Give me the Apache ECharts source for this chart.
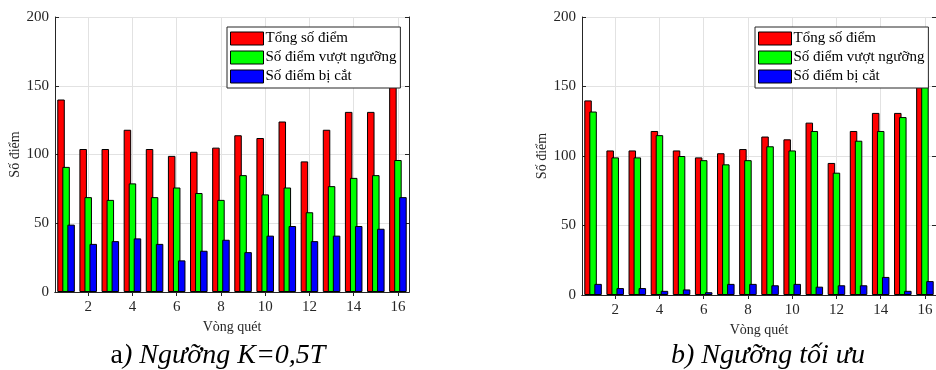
<!DOCTYPE html>
<html>
<head>
<meta charset="utf-8">
<script src="https://cdn.jsdelivr.net/npm/echarts@6/dist/echarts.min.js"></script>
<style>
html,body{margin:0;padding:0;background:#fff;}
#c{width:936px;height:370px;}
</style>
</head>
<body>
<div id="c"></div>
<script>
const categories = ['1','2','3','4','5','6','7','8','9','10','11','12','13','14','15','16'];
const seriesNames = ['Tổng số điểm', 'Số điểm vượt ngưỡng', 'Số điểm bị cắt'];
// chart a) Ngưỡng K=0,5T
const totalA = [140,104,104,118,104,99,102,105,114,112,124,95,118,131,131,165];
const aboveA = [91,69,67,79,69,76,72,67,85,71,76,58,77,83,85,96];
const cutA   = [49,35,37,39,35,23,30,38,29,41,48,37,41,48,46,69];
// chart b) Ngưỡng tối ưu
const totalB = [140,104,104,118,104,99,102,105,114,112,124,95,118,131,131,165];
const aboveB = [132,99,99,115,100,97,94,97,107,104,118,88,111,118,128,155];
const cutB   = [8,5,5,3,4,2,8,8,7,8,6,7,7,13,3,10];
const yMin = 0, yMax = 200, yStep = 50;
const xAxisName = 'Vòng quét';
const yAxisName = 'Số điểm';

const FONT = 'Liberation Serif';
const AX = '#262626';
const GRIDC = '#e2e2e2';
const colors = ['#ff0000', '#00ff00', '#0000ff'];
const evenOnly = (i) => i % 2 === 1;

const grids = [
  {left: 55, top: 17, width: 354, height: 275},
  {left: 582, top: 17, width: 357, height: 278}
];

const xAxes = [], yAxes = [], series = [], legends = [];
const sets = [[totalA, aboveA, cutA], [totalB, aboveB, cutB]];
const legendPos = [{left: 227, top: 27}, {left: 755, top: 27}];
const nameGaps = [{x: 28, y: 33}, {x: 28, y: 32}];

grids.forEach((g, gi) => {
  xAxes.push({
    type: 'category', gridIndex: gi, data: categories, position: 'bottom',
    boundaryGap: true,
    name: xAxisName, nameLocation: 'middle', nameGap: nameGaps[gi].x,
    nameTextStyle: {fontFamily: FONT, fontSize: 14, color: AX},
    axisLine: {show: true, lineStyle: {color: AX, width: 1}},
    axisTick: {show: true, inside: true, length: 4, alignWithLabel: true, interval: evenOnly, lineStyle: {color: AX}},
    axisLabel: {show: true, interval: evenOnly, fontFamily: FONT, fontSize: 15, color: AX, margin: 8},
    splitLine: {show: true, interval: evenOnly, alignWithLabel: true, lineStyle: {color: GRIDC, width: 1}}
  });
  xAxes.push({
    type: 'category', gridIndex: gi, data: categories, position: 'top',
    boundaryGap: true,
    axisLine: {show: true, lineStyle: {color: AX, width: 1}},
    axisTick: {show: true, inside: true, length: 4, alignWithLabel: true, interval: evenOnly, lineStyle: {color: AX}},
    axisLabel: {show: false},
    splitLine: {show: false}
  });
  yAxes.push({
    type: 'value', gridIndex: gi, min: yMin, max: yMax, interval: yStep, position: 'left',
    name: yAxisName, nameLocation: 'middle', nameGap: nameGaps[gi].y,
    nameTextStyle: {fontFamily: FONT, fontSize: 14, color: AX},
    axisLine: {show: true, lineStyle: {color: AX, width: 1}},
    axisTick: {show: true, inside: true, length: 4, lineStyle: {color: AX}},
    axisLabel: {fontFamily: FONT, fontSize: 15, color: AX, margin: 6},
    splitLine: {show: true, lineStyle: {color: GRIDC, width: 1}}
  });
  yAxes.push({
    type: 'value', gridIndex: gi, min: yMin, max: yMax, interval: yStep, position: 'right',
    axisLine: {show: true, lineStyle: {color: AX, width: 1}},
    axisTick: {show: true, inside: true, length: 4, lineStyle: {color: AX}},
    axisLabel: {show: false},
    splitLine: {show: false}
  });
  sets[gi].forEach((arr, si) => {
    series.push({
      type: 'bar', name: seriesNames[si], xAxisIndex: gi * 2, yAxisIndex: gi * 2,
      data: arr, barWidth: 7.5, barGap: '-33%',
      itemStyle: {color: colors[si], borderColor: '#000', borderWidth: 1},
      emphasis: {disabled: true}, animation: false
    });
  });
  legends.push({
    orient: 'vertical', left: legendPos[gi].left, top: legendPos[gi].top,
    data: seriesNames, icon: 'rect', itemWidth: 33, itemHeight: 13, itemGap: 4,
    padding: [4, 4, 4, 3], backgroundColor: '#fff', borderColor: AX, borderWidth: 1,
    borderRadius: 0,
    itemStyle: {borderColor: '#000', borderWidth: 1},
    textStyle: {fontFamily: FONT, fontSize: 15, color: '#000', padding: [0, 0, 0, -3]},
    selectedMode: false, z: 10
  });
});

const titles = [
  {text: '{u|a}{i|) Ngưỡng K=0,5T}', left: 218},
  {text: '{i|b) Ngưỡng tối ưu}', left: 768}
].map(t => ({
  text: t.text, left: t.left, top: 342, textAlign: 'center', padding: 0,
  textStyle: {
    fontSize: 28, fontFamily: FONT, fontWeight: 'normal', color: '#000',
    rich: {
      u: {fontSize: 28, fontFamily: FONT, fontWeight: 'normal', fontStyle: 'normal', color: '#000'},
      i: {fontSize: 28, fontFamily: FONT, fontWeight: 'normal', fontStyle: 'italic', color: '#000'}
    }
  }
}));

const chart = echarts.init(document.getElementById('c'), null, {renderer: 'canvas'});
chart.setOption({
  animation: false,
  backgroundColor: '#fff',
  title: titles,
  grid: grids,
  xAxis: xAxes,
  yAxis: yAxes,
  legend: legends,
  series: series
});
</script>
</body>
</html>
